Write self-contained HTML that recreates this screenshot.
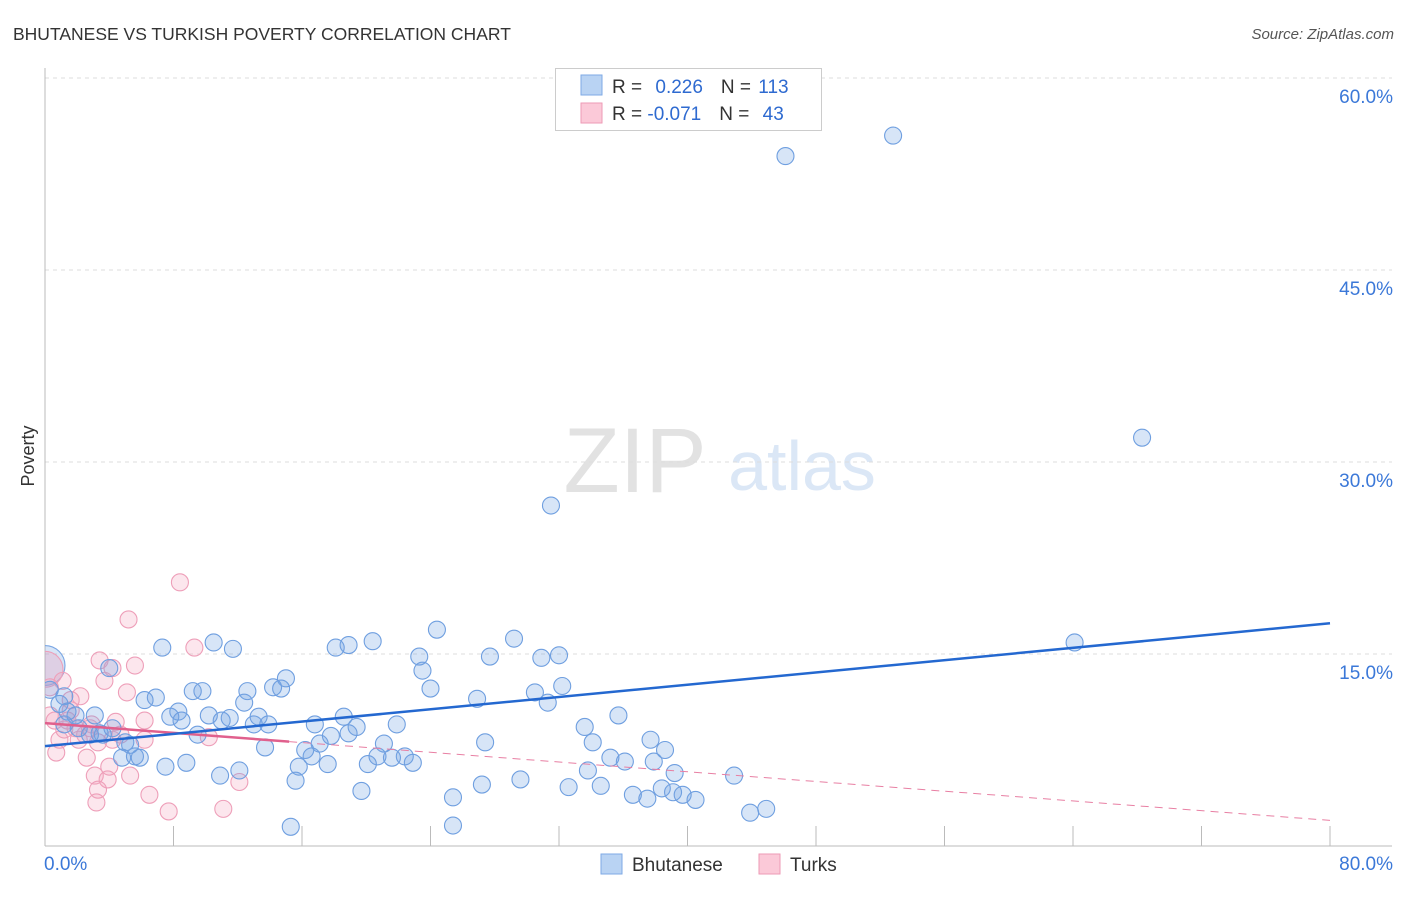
<!DOCTYPE html>
<html><head><meta charset="utf-8"><style>
body{margin:0;background:#fff;font-family:"Liberation Sans",sans-serif}
svg text{font-family:"Liberation Sans",sans-serif}
</style></head><body>
<svg id="chart" width="1406" height="892" viewBox="0 0 1406 892" xmlns="http://www.w3.org/2000/svg">
<defs><clipPath id="plotclip"><rect x="45" y="60" width="1360" height="786"/></clipPath></defs>
<text x="13" y="40" font-size="17.5" fill="#333">BHUTANESE VS TURKISH POVERTY CORRELATION CHART</text>
<text x="1394" y="39" font-size="15" fill="#555" font-style="italic" text-anchor="end">Source: ZipAtlas.com</text>
<g>
<text x="635" y="492" font-size="92" fill="#e2e2e2" font-family="Liberation Serif" text-anchor="middle">ZIP</text>
<text x="802" y="490" font-size="70" fill="#dbe7f6" text-anchor="middle">atlas</text>
</g>
<text transform="translate(34,456) rotate(-90)" font-size="18" fill="#333" text-anchor="middle">Poverty</text>
<g id="grid"></g>
<g id="axes"></g>
<g id="pts" clip-path="url(#plotclip)"></g>
<g id="trends"></g>
<g>
<rect x="555.5" y="68.5" width="266" height="62" fill="#fff" stroke="#ccc"/>
<rect x="581" y="75" width="21" height="20" fill="#b9d3f3" stroke="#7ea9e6"/>
<rect x="581" y="103" width="21" height="20" fill="#fbc9d8" stroke="#ee9ab6"/>
<text x="612" y="93" font-size="19" fill="#333">R = <tspan fill="#2e6ad0" dx="8">0.226</tspan><tspan dx="18" fill="#333">N = </tspan><tspan fill="#2e6ad0" dx="2">113</tspan></text>
<text x="612" y="120" font-size="19" fill="#333">R = <tspan fill="#2e6ad0">-0.071</tspan><tspan dx="18" fill="#333">N = </tspan><tspan fill="#2e6ad0" dx="8">43</tspan></text>
</g>
<g>
<rect x="601" y="854" width="21" height="20" fill="#b9d3f3" stroke="#7ea9e6"/>
<text x="632" y="871" font-size="19" fill="#333">Bhutanese</text>
<rect x="759" y="854" width="21" height="20" fill="#fbc9d8" stroke="#ee9ab6"/>
<text x="790" y="871" font-size="19" fill="#333">Turks</text>
</g>
</svg>
<script>
const blueX=[46.1,52.8,68.3,31.5,64.1,7.3,10.5,11.7,18.1,18.9,20.4,24.4,29.2,23.3,23.5,27.7,30.9,32.0,24.0,26.9,30.5,31.3,32.2,6.2,6.9,8.3,7.8,8.5,9.2,9.8,12.6,14.2,14.7,15.0,12.4,10.2,11.0,11.5,13.3,13.0,13.9,16.8,18.6,19.4,17.8,17.1,18.9,21.9,27.4,33.6,34.1,35.7,37.7,38.6,9.5,5.0,5.3,3.4,3.6,4.2,2.8,2.1,1.2,13.7,16.2,16.6,17.6,15.8,15.6,20.1,20.7,21.1,21.6,22.4,22.9,35.2,36.1,37.9,33.8,39.2,42.9,29.6,27.2,32.6,34.6,25.4,36.6,37.5,38.4,39.1,39.7,40.5,43.9,44.9,19.7,25.4,15.3,12.1,10.9,8.8,7.5,5.9,4.8,5.6,0.9,1.4,1.2,0.3,4.0,1.9,3.1];
const blueY=[53.9,55.5,31.9,26.6,15.9,15.5,15.9,15.4,15.5,15.7,16.0,16.9,16.2,14.8,13.7,14.8,14.7,14.9,12.3,11.5,12.0,11.2,12.5,11.4,11.6,10.5,10.1,9.8,12.1,12.1,12.1,12.4,12.3,13.1,11.2,10.2,9.8,10.0,10.1,9.5,9.5,9.5,10.1,9.3,8.6,8.0,8.8,9.5,8.1,9.3,8.1,10.2,8.3,7.5,8.7,8.1,7.9,8.8,8.7,9.2,8.7,9.2,9.5,7.7,7.5,7.0,6.4,6.2,5.1,6.4,7.0,8.0,6.9,7.0,6.5,6.9,6.6,6.6,5.9,5.7,5.5,5.2,4.8,4.6,4.7,3.8,4.0,3.7,4.5,4.2,4.0,3.6,2.6,2.9,4.3,1.6,1.5,5.9,5.5,6.5,6.2,6.9,6.9,7.0,11.1,10.5,11.7,12.2,13.9,10.2,10.2];
const blueBigX=[0.0];
const blueBigY=[14.1];
const pinkX=[8.4,5.2,3.4,4.2,5.6,9.3,3.7,5.1,2.2,1.1,1.6,0.3,0.6,1.4,1.9,2.8,2.5,3.3,2.1,0.9,4.2,6.2,4.4,1.6,3.1,3.9,5.3,4.0,2.6,0.7,3.3,3.2,6.5,7.7,11.1,12.1,10.2,6.2,1.2,0.3,4.7,2.9];
const pinkY=[20.6,17.7,14.5,13.9,14.1,15.5,12.9,12.0,11.7,12.9,10.6,12.4,9.8,9.8,9.2,9.2,8.7,8.1,8.3,8.3,8.3,9.8,9.7,11.4,5.5,5.2,5.5,6.2,6.9,7.3,4.4,3.4,4.0,2.7,2.9,5.0,8.5,8.3,9.1,10.2,8.7,9.5];
const pinkBigX=[0.0];
const pinkBigY=[13.8];
const yTicks=[15,30,45,60];
const yTickLabels=["15.0%","30.0%","45.0%","60.0%"];
const xTicks=[0,8,16,24,32,40,48,56,64,72,80];
const xEndLabels=["0.0%","80.0%"];
const blueTrend=[7.8,17.4];
const pinkTrend=[9.6,2.0];
const pinkSolidEnd=15.2;

const NS="http://www.w3.org/2000/svg";
const X0=45,X1=1330,Y0=846,YT=78;
const sx=v=>X0+v/80*(X1-X0);
const sy=v=>Y0-v/60*(Y0-YT);
function mk(tag,attrs,parent){const e=document.createElementNS(NS,tag);for(const k in attrs)e.setAttribute(k,attrs[k]);parent.appendChild(e);return e;}
const grid=document.getElementById('grid'),axes=document.getElementById('axes'),pts=document.getElementById('pts'),tr=document.getElementById('trends');
yTicks.forEach((t,i)=>{
 const l=mk('line',{x1:X0,x2:1392,y1:sy(t),y2:sy(t),stroke:'#ddd','stroke-dasharray':'4,4'},grid);
 
 
 const tx=mk('text',{x:1393,y:sy(t)+25,'font-size':19,fill:'#3b78d8','text-anchor':'end'},grid);
 tx.textContent=yTickLabels[i];
 
 
});
const ya=mk('line',{x1:X0,x2:X0,y1:68,y2:Y0,stroke:'#bbb'},axes);


const xa=mk('line',{x1:X0,x2:1392,y1:Y0,y2:Y0,stroke:'#bbb'},axes);


xTicks.forEach(t=>{
 const l=mk('line',{x1:sx(t),x2:sx(t),y1:826,y2:Y0,stroke:'#bbb'},axes);
 
 
});
const xl0=mk('text',{x:44,y:870,'font-size':19,fill:'#3b78d8'},axes);xl0.textContent=xEndLabels[0];


const xl1=mk('text',{x:1393,y:870,'font-size':19,fill:'#3b78d8','text-anchor':'end'},axes);xl1.textContent=xEndLabels[1];


function dots(xs,ys,r,fill,stroke,name){xs.forEach((x,i)=>{
 const c=mk('circle',{cx:sx(x),cy:sy(ys[i]),r:r,fill:fill,stroke:stroke,'stroke-width':1.1},pts);
 
 
});}
dots(blueBigX,blueBigY,20,'rgba(110,160,225,0.28)','#7aa6e3','bhutanese-point');
dots(pinkBigX,pinkBigY,18,'rgba(240,150,180,0.28)','#ee9fb9','turks-point');
dots(pinkX,pinkY,8.5,'rgba(245,165,190,0.28)','#ee9fb9','turks-point');
dots(blueX,blueY,8.5,'rgba(110,160,225,0.28)','#6f9fe0','bhutanese-point');
const pv=x=>pinkTrend[0]+(pinkTrend[1]-pinkTrend[0])*x/80;
const pd=mk('line',{x1:sx(pinkSolidEnd),y1:sy(pv(pinkSolidEnd)),x2:sx(80),y2:sy(pinkTrend[1]),stroke:'#e87fa3','stroke-width':1,'stroke-dasharray':'8,6'},tr);


const ps=mk('line',{x1:sx(0),y1:sy(pinkTrend[0]),x2:sx(pinkSolidEnd),y2:sy(pv(pinkSolidEnd)),stroke:'#e0608d','stroke-width':2.5},tr);


const bl=mk('line',{x1:sx(0),y1:sy(blueTrend[0]),x2:sx(80),y2:sy(blueTrend[1]),stroke:'#2468d0','stroke-width':2.5},tr);


</script>
</body></html>
